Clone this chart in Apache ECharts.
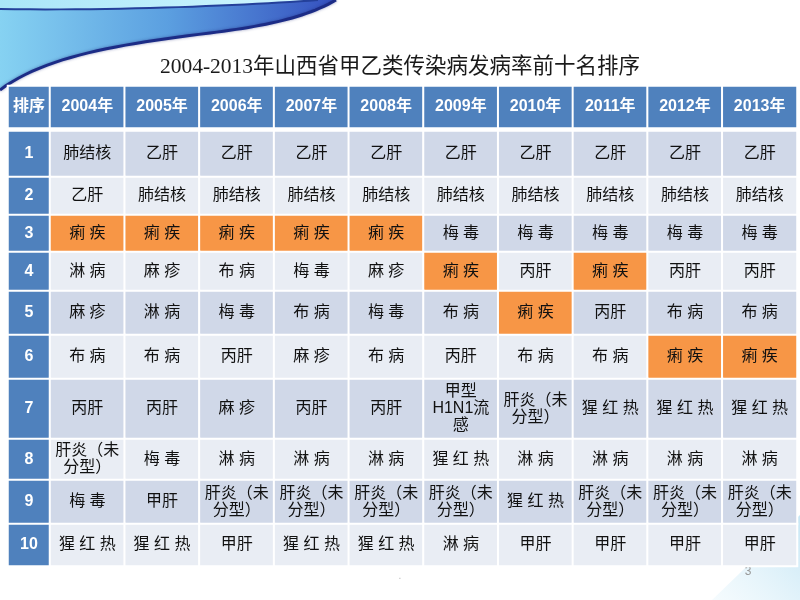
<!DOCTYPE html>
<html>
<head>
<meta charset="utf-8">
<script src="https://cdn.jsdelivr.net/npm/echarts@6/dist/echarts.min.js"></script>
<style>
  html, body { margin: 0; padding: 0; background: #fff; }
  #chart { width: 800px; height: 600px; }
</style>
</head>
<body>
<div id="chart"></div>
<script>
// 表头与各年排序
const years = ['2004年', '2005年', '2006年', '2007年', '2008年', '2009年', '2010年', '2011年', '2012年', '2013年']
const ranks = ['1', '2', '3', '4', '5', '6', '7', '8', '9', '10']
const cornerLabel = ['排序']

const rank2004 = ['肺结核', '乙肝', '痢疾', '淋病', '麻疹', '布病', '丙肝', '肝炎（未分型）', '梅毒', '猩红热']
const rank2005 = ['乙肝', '肺结核', '痢疾', '麻疹', '淋病', '布病', '丙肝', '梅毒', '甲肝', '猩红热']
const rank2006 = ['乙肝', '肺结核', '痢疾', '布病', '梅毒', '丙肝', '麻疹', '淋病', '肝炎（未分型）', '甲肝']
const rank2007 = ['乙肝', '肺结核', '痢疾', '梅毒', '布病', '麻疹', '丙肝', '淋病', '肝炎（未分型）', '猩红热']
const rank2008 = ['乙肝', '肺结核', '痢疾', '麻疹', '梅毒', '布病', '丙肝', '淋病', '肝炎（未分型）', '猩红热']
const rank2009 = ['乙肝', '肺结核', '梅毒', '痢疾', '布病', '丙肝', '甲型H1N1流感', '猩红热', '肝炎（未分型）', '淋病']
const rank2010 = ['乙肝', '肺结核', '梅毒', '丙肝', '痢疾', '布病', '肝炎（未分型）', '淋病', '猩红热', '甲肝']
const rank2011 = ['乙肝', '肺结核', '梅毒', '痢疾', '丙肝', '布病', '猩红热', '淋病', '肝炎（未分型）', '甲肝']
const rank2012 = ['乙肝', '肺结核', '梅毒', '丙肝', '布病', '痢疾', '猩红热', '淋病', '肝炎（未分型）', '甲肝']
const rank2013 = ['乙肝', '肺结核', '梅毒', '丙肝', '布病', '痢疾', '猩红热', '淋病', '肝炎（未分型）', '甲肝']
const yearColumns = [rank2004, rank2005, rank2006, rank2007, rank2008, rank2009, rank2010, rank2011, rank2012, rank2013]

const highlightName = '痢疾'
const spacedNames = ['痢疾', '梅毒', '淋病', '布病', '麻疹', '猩红热']

// 版式
const TABLE_LEFT = 8
const RANK_W = 42
const BODY_LEFT = 50
const BODY_W = 747
const HEADER_TOP = 86
const HEADER_H = 42
const BODY_TOP = 131
const rowHeights = [46, 38, 37, 39, 44, 44, 60, 41, 44, 42]

const BLUE = '#4F81BD'
const ORANGE = '#F79646'
const ROW_DARK = '#D0D8E8'
const ROW_LIGHT = '#E9EDF4'

const displayName = (name) => {
  if (name === '肝炎（未分型）') return '肝炎（未\n分型）'
  if (name === '甲型H1N1流感') return '甲型\nH1N1流\n感'
  if (spacedNames.includes(name)) return name.split('').join(' ')
  return name
}

const headLabel = {
  show: true,
  color: '#fff',
  fontSize: 16,
  fontWeight: 'bold',
  fontFamily: "'Liberation Sans', 'Noto Sans CJK SC', sans-serif",
  formatter: (p) => p.data.text
}
const cellLabel = {
  show: true,
  color: '#111',
  fontSize: 16,
  lineHeight: 17,
  fontFamily: "'Liberation Sans', 'Noto Sans CJK SC', sans-serif",
  formatter: (p) => p.data.text
}

const grids = []
const xAxes = []
const yAxes = []
const series = []

const addBlock = (left, width, top, height, cats, cells, label) => {
  const i = grids.length
  grids.push({ left, top, width, height })
  xAxes.push({ type: 'category', gridIndex: i, data: cats, show: false })
  yAxes.push({ type: 'category', gridIndex: i, data: [''], show: false })
  series.push({
    type: 'heatmap',
    xAxisIndex: i,
    yAxisIndex: i,
    silent: true,
    emphasis: { disabled: true },
    itemStyle: { borderColor: '#fff', borderWidth: 2 },
    label,
    data: cells
  })
}

// 表头
addBlock(TABLE_LEFT, RANK_W, HEADER_TOP, HEADER_H, cornerLabel,
  cornerLabel.map((t, k) => ({ value: [k, 0, 0], text: t, itemStyle: { color: BLUE } })), headLabel)
addBlock(BODY_LEFT, BODY_W, HEADER_TOP, HEADER_H, years,
  years.map((t, k) => ({ value: [k, 0, 0], text: t, itemStyle: { color: BLUE } })), headLabel)

// 各名次行
let rowTop = BODY_TOP
ranks.forEach((rank, r) => {
  const h = rowHeights[r]
  const bg = r % 2 === 0 ? ROW_DARK : ROW_LIGHT
  addBlock(TABLE_LEFT, RANK_W, rowTop, h, [rank],
    [{ value: [0, 0, 0], text: rank, itemStyle: { color: BLUE } }], headLabel)
  addBlock(BODY_LEFT, BODY_W, rowTop, h, years,
    yearColumns.map((col, k) => ({
      value: [k, 0, 0],
      text: displayName(col[r]),
      itemStyle: { color: col[r] === highlightName ? ORANGE : bg }
    })), cellLabel)
  rowTop += h
})

// 左上角装饰波浪：把三次贝塞尔曲线取样成折线点
const bez = (p0, p1, p2, p3, n = 24) => {
  const pts = []
  for (let i = 0; i <= n; i++) {
    const t = i / n
    const u = 1 - t
    pts.push([
      u * u * u * p0[0] + 3 * u * u * t * p1[0] + 3 * u * t * t * p2[0] + t * t * t * p3[0],
      u * u * u * p0[1] + 3 * u * u * t * p1[1] + 3 * u * t * t * p2[1] + t * t * t * p3[1]
    ])
  }
  return pts
}
const topEdge = bez([0, 9], [120, 11], [250, 5], [318, 0])
const lowEdge = bez([336, 0], [305, 18], [265, 26], [210, 33]).concat(bez([210, 33], [120, 44], [45, 56], [0, 90]))

const chart = echarts.init(document.getElementById('chart'))
chart.setOption({
  backgroundColor: '#fff',
  animation: false,
  title: {
    text: '2004-2013年山西省甲乙类传染病发病率前十名排序',
    left: 'center',
    top: 57,
    padding: 0,
    textStyle: {
      fontSize: 21.5,
      fontWeight: 'normal',
      color: '#1a1a1a',
      fontFamily: "'Liberation Serif', 'Noto Sans CJK SC', serif"
    }
  },
  graphic: [
    {
      type: 'polygon',
      z: -1,
      shape: { points: [[0, 0], [318, 0]].concat(topEdge.slice().reverse()) },
      style: {
        fill: { type: 'linear', x: 0, y: 0, x2: 1, y2: 0, colorStops: [
          { offset: 0, color: '#a9e6f8' }, { offset: 1, color: '#d2f7ff' }
        ] }
      }
    },
    {
      type: 'polygon',
      z: -1,
      shape: { points: topEdge.concat(lowEdge) },
      style: {
        fill: { type: 'linear', x: 0, y: 0, x2: 1, y2: 0, colorStops: [
          { offset: 0, color: '#86d2f2' }, { offset: 0.5, color: '#5b9fe0' }, { offset: 1, color: '#3550bf' }
        ] }
      }
    },
    {
      type: 'polyline',
      z: -1,
      shape: { points: topEdge },
      style: { fill: null, stroke: '#24409a', lineWidth: 2 }
    },
    {
      type: 'polyline',
      z: -1,
      shape: { points: lowEdge },
      style: { fill: null, stroke: '#1c2c86', lineWidth: 3, shadowBlur: 3, shadowColor: 'rgba(30,40,120,0.5)' }
    },
    {
      type: 'polygon',
      z: -1,
      shape: { points: [[712, 600], [800, 515], [800, 600]] },
      style: {
        fill: { type: 'linear', x: 0, y: 1, x2: 1, y2: 0, colorStops: [
          { offset: 0, color: 'rgba(205,235,248,0.2)' }, { offset: 1, color: 'rgba(175,220,240,0.7)' }
        ] }
      }
    },
    {
      type: 'text',
      x: 748,
      y: 572,
      style: { text: '3', fill: '#999', fontSize: 12, fontFamily: "'Liberation Sans', sans-serif", textAlign: 'center', textVerticalAlign: 'middle' }
    },
    {
      type: 'text',
      x: 400,
      y: 576,
      style: { text: '.', fill: '#bbb', fontSize: 10, textAlign: 'center', textVerticalAlign: 'middle' }
    }
  ],
  grid: grids,
  xAxis: xAxes,
  yAxis: yAxes,
  series
})

window.addEventListener('resize', () => chart.resize())
</script>
</body>
</html>
